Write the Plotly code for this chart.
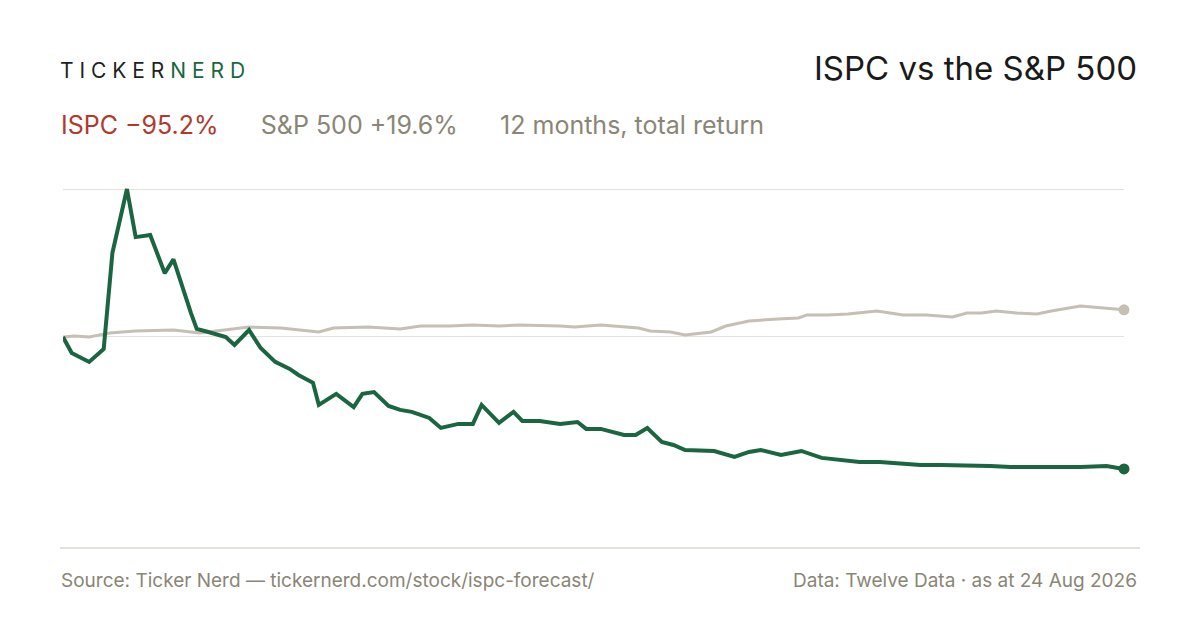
import plotly.graph_objects as go

# ISPC: day offset, cumulative return %
ispc_day = [0,3,9,14,17,22,25,30,35,38,44,46,50,56,59,64,68,73,78,81,86,88,94,100,103,107,112,116,120,126,130,136,141,144,150,155,158,164,171,177,180,185,193,197,201,206,210,214,224,231,236,240,247,254,261,267,274,281,295,302,309,319,326,337,340,350,359,365]
ispc_ret = [0,-11.5,-18,-8.7,60.6,106.7,72,73.5,46,56,17.3,5.8,3.6,0,-5.8,5,-8,-18,-23,-27.4,-33,-49,-41,-50.5,-41,-39.7,-49.7,-52.6,-54,-58.4,-65.6,-62.7,-62.7,-49,-62,-54,-60.6,-60.6,-62.7,-61.3,-66.3,-66.3,-70.7,-70.7,-65.6,-75.7,-77.9,-81.5,-82.2,-86.5,-82.9,-81.5,-85,-82.2,-87.2,-88.7,-90.1,-90.1,-92.3,-92.3,-92.3,-93,-93.7,-93.7,-94.4,-93.7,-93,-95.2]
spx_day = [0,4,9,16,25,38,47,59,64,75,81,88,93,105,116,123,133,141,150,157,171,176,185,198,202,209,214,223,228,236,246,253,256,263,270,280,289,297,306,311,316,321,328,335,340,347,350,365]
spx_ret = [0,0.7,0,2.9,4.3,5,2.9,5.8,7.2,6.5,5,3.6,6.5,7.2,5.8,7.9,7.9,8.7,7.9,8.7,7.9,7.2,8.7,6.5,4.3,3.6,1.4,3.6,7.9,11.5,13,13.7,15.9,15.9,16.6,18.7,15.9,15.9,14.4,17.3,17.3,18.7,17.3,16.6,18.7,21.6,22.4,19.6]

GREEN = "#1a6641"
GRAY_LINE = "#c6bfb3"
RED = "#b03a2e"
TXT = "#8a8676"
FONT = "Inter, Liberation Sans, sans-serif"

fig = go.Figure()
fig.add_trace(go.Scatter(x=spx_day, y=spx_ret, mode="lines", line=dict(color=GRAY_LINE, width=3), hoverinfo="skip", cliponaxis=False))
fig.add_trace(go.Scatter(x=ispc_day, y=ispc_ret, mode="lines", line=dict(color=GREEN, width=4), hoverinfo="skip", cliponaxis=False))
fig.add_trace(go.Scatter(x=[spx_day[-1]], y=[spx_ret[-1]], mode="markers", marker=dict(color=GRAY_LINE, size=11), cliponaxis=False))
fig.add_trace(go.Scatter(x=[ispc_day[-1]], y=[ispc_ret[-1]], mode="markers", marker=dict(color=GREEN, size=11), cliponaxis=False))

OFF = 8
L, T, PW, PH = 63 - OFF, 170 - OFF, 1061, 360
fig.update_layout(
    width=1200, height=630, showlegend=False,
    paper_bgcolor="white", plot_bgcolor="white",
    margin=dict(l=L, r=1200 - L - PW, t=T, b=630 - T - PH),
    font=dict(family=FONT),
    xaxis=dict(range=[0, 365], showgrid=False, zeroline=False, showticklabels=False, showline=False),
    yaxis=dict(range=[-139.2, 120.4], tickvals=[0, max(ispc_ret)], showticklabels=False,
               gridcolor="#e6e3dd", gridwidth=1, zeroline=False, showline=False),
)

def px(xp, yp):
    return (xp - 63) / PW, (530 - yp) / PH

x0, yl = px(60, 548)
x1, _ = px(1140, 548)
fig.add_shape(type="line", xref="paper", yref="paper", x0=x0, x1=x1, y0=yl, y1=yl,
              line=dict(color="#dcd8cf", width=1.5))

def ann(text, xs, ys, size, color, anchor="left"):
    x, y = px(xs, ys)
    fig.add_annotation(text=text, xref="paper", yref="paper", x=x, y=y, xanchor=anchor, yanchor="middle",
                       showarrow=False, font=dict(size=size, color=color, family=FONT))

ann("<span style='color:#1f1f1f'>T I C K E R</span> <span style='color:%s'>N E R D</span>" % GREEN, 58, 70, 21, "#1f1f1f")
ann("ISPC vs the S&P 500", 1139, 68, 33, "#1a1a1a", "right")
ann("<span style='color:%s'>ISPC −95.2%%</span>      <span style='color:%s'>S&P 500 +19.6%%</span>      <span style='color:%s'>12 months, total return</span>" % (RED, TXT, TXT), 59, 125, 25, TXT)
ann("Source: Ticker Nerd — tickernerd.com/stock/ispc-forecast/", 59, 580, 19, TXT)
ann("Data: Twelve Data · as at 24 Aug 2026", 1139, 580, 19, TXT, "right")

fig.write_html("out.html")
